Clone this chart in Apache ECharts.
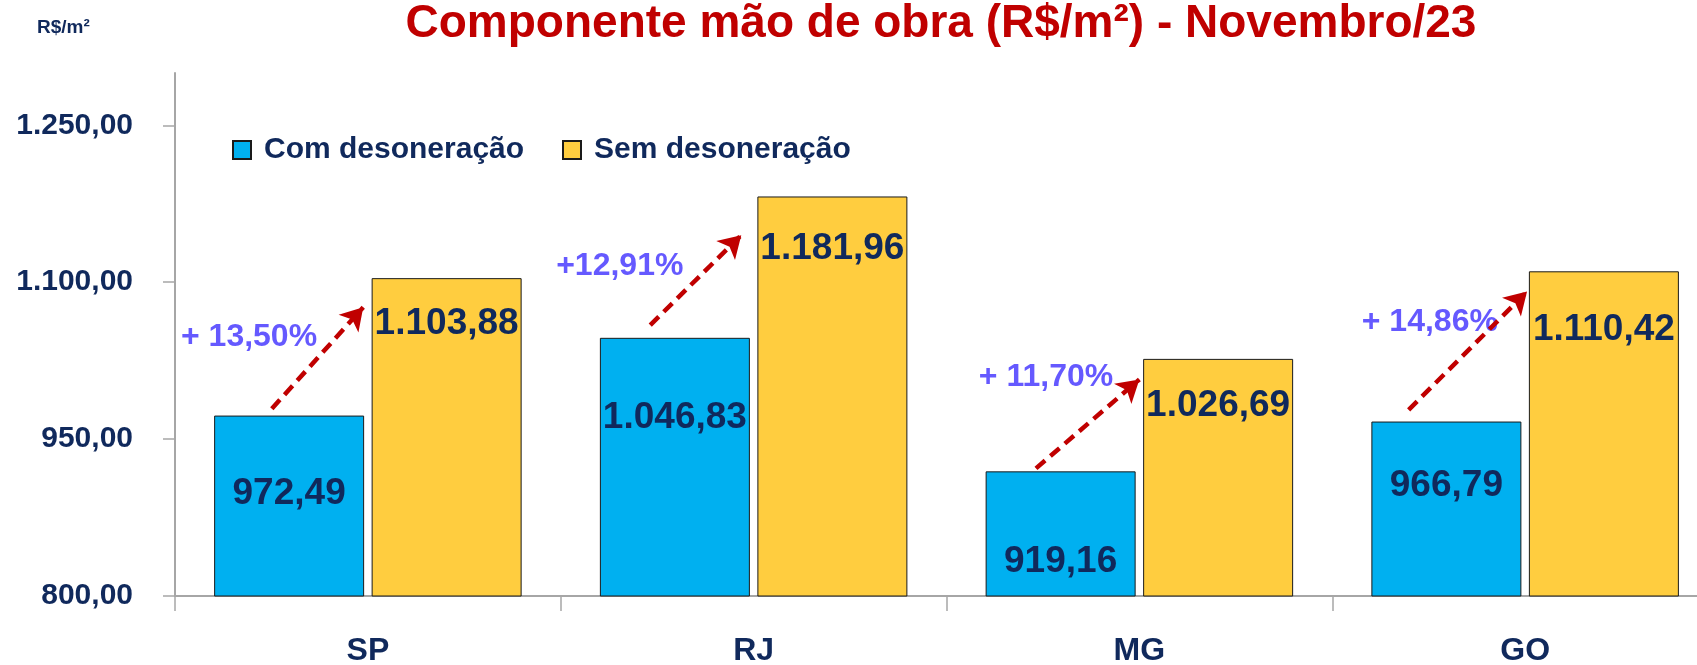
<!DOCTYPE html>
<html><head><meta charset="utf-8">
<script src="https://cdn.jsdelivr.net/npm/echarts@6/dist/echarts.min.js"></script>
<style>html,body{margin:0;padding:0;background:#fff}#c{width:1697px;height:665px}</style>
</head><body><div id="c"></div>
<script>
// ---- data ----
const categories = ['SP', 'RJ', 'MG', 'GO'];
const seriesNames = ['Com desoneração', 'Sem desoneração'];
const comDesoneracao = [972.49, 1046.83, 919.16, 966.79];
const semDesoneracao = [1103.88, 1181.96, 1026.69, 1110.42];
const variacaoLabels = ['+ 13,50%', '+12,91%', '+ 11,70%', '+ 14,86%'];
const yTicks = [800, 950, 1100, 1250];
const titleText = 'Componente mão de obra (R$/m²) - Novembro/23';
const unitText = 'R$/m²';

// ---- annotation layout (x in category units 0..4, y in R$/m²) ----
const arrowStart = [[0.251, 979], [1.232, 1059], [2.232, 922], [3.198, 978]];
const arrowEnd = [[0.488, 1076], [1.468, 1145], [2.500, 1007], [3.505, 1091]];
const pctPos = [[0.192, 1047], [1.153, 1115], [2.258, 1009], [3.253, 1062]];
// value label centre offset below bar top (px)
const blueLabelDy = [78, 80, 90, 64];
const yellowLabelDy = [46, 52, 47, 58];

const FONT = '"Liberation Sans", Arial, sans-serif';
const NAVY = '#10295C';
const AXIS = '#A6A6A6';

function fmt(v) {
  const parts = Number(v).toFixed(2).split('.');
  return parts[0].replace(/\B(?=(\d{3})+(?!\d))/g, '.') + ',' + parts[1];
}

const valueLabel = {
  show: true, align: 'center', verticalAlign: 'middle',
  formatter: p => fmt(p.value),
  fontFamily: FONT, fontWeight: 'bold', fontSize: 37, color: NAVY
};

const legendText = { fontFamily: FONT, fontWeight: 'bold', fontSize: 30, color: NAVY, padding: [0, 0, 0, 8] };

const chart = echarts.init(document.getElementById('c'), null, { renderer: 'canvas' });
chart.setOption({
  animation: false,
  backgroundColor: '#ffffff',
  title: [
    { text: titleText, left: 936, top: -4, textAlign: 'center',
      textStyle: { color: '#C00000', fontSize: 46, fontWeight: 'bold', fontFamily: FONT } },
    { text: unitText, left: 32, top: 13,
      textStyle: { color: NAVY, fontSize: 19, fontWeight: 'bold', fontFamily: FONT } }
  ],
  legend: [
    { data: [seriesNames[0]], left: 232, top: 135, padding: 0, itemWidth: 18, itemHeight: 18, icon: 'rect', textStyle: legendText, selectedMode: false },
    { data: [seriesNames[1]], left: 562, top: 135, padding: 0, itemWidth: 18, itemHeight: 18, icon: 'rect', textStyle: legendText, selectedMode: false }
  ],
  grid: { left: 175, right: -21, top: 73, bottom: 69, containLabel: false, outerBoundsMode: 'none' },
  xAxis: [
    { type: 'category', data: categories,
      axisLine: { lineStyle: { color: AXIS, width: 2 } },
      axisTick: { show: true, length: 15, lineStyle: { color: AXIS, width: 1.5 } },
      axisLabel: { margin: 39, fontFamily: FONT, fontWeight: 'bold', fontSize: 32, color: NAVY } },
    { type: 'value', min: 0, max: 4, show: false }
  ],
  yAxis: {
    type: 'value', min: 800, max: 1300,
    splitLine: { show: false },
    axisLine: { show: true, lineStyle: { color: AXIS, width: 2 } },
    axisTick: { show: true, length: 12, customValues: yTicks, lineStyle: { color: AXIS, width: 1.5 } },
    axisLabel: { customValues: yTicks, formatter: v => fmt(v), margin: 42,
      fontFamily: FONT, fontWeight: 'bold', fontSize: 30, color: NAVY }
  },
  series: [
    { type: 'bar', name: seriesNames[0], barWidth: 150, barGap: '5%',
      data: comDesoneracao.map((v, i) => ({ value: v, label: { position: ['50%', blueLabelDy[i]] } })),
      itemStyle: { color: '#00B0F0', borderColor: '#1a1a1a', borderWidth: 1 },
      label: valueLabel },
    { type: 'bar', name: seriesNames[1], barWidth: 150,
      data: semDesoneracao.map((v, i) => ({ value: v, label: { position: ['50%', yellowLabelDy[i]] } })),
      itemStyle: { color: '#FFCD3F', borderColor: '#1a1a1a', borderWidth: 1 },
      label: valueLabel },
    { type: 'scatter', name: 'variacao', xAxisIndex: 1, yAxisIndex: 0, symbolSize: 1,
      itemStyle: { color: 'rgba(0,0,0,0)' }, silent: true,
      data: pctPos.map((p, i) => ({ value: p, name: variacaoLabels[i] })),
      label: { show: true, position: 'inside', formatter: '{b}',
        fontFamily: FONT, fontWeight: 'bold', fontSize: 32, color: '#3F2FFF' },
      markLine: {
        silent: true, symbol: ['none', 'arrow'], symbolSize: [20, 22], animation: false,
        lineStyle: { color: '#C00000', width: 4.5, type: [12, 7] },
        label: { show: false },
        data: arrowStart.map((s, i) => [{ coord: s }, { coord: arrowEnd[i] }])
      } }
  ]
});
</script>
</body></html>
